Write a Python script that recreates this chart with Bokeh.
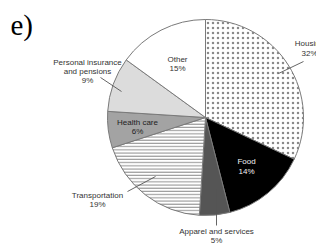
from math import pi
from bokeh.plotting import figure
from bokeh.models import Range1d, ColumnDataSource
from bokeh.core.properties import value
from bokeh.embed import file_html
from bokeh.resources import INLINE

# ---- data ----
categories = ["Housing", "Food", "Apparel and services", "Transportation",
              "Health care", "Personal insurance and pensions", "Other"]
shares = [32, 14, 5, 19, 6, 9, 15]
fill_colors = ["white", "black", "#555555", "white", "#a3a3a3", "#dcdcdc", "white"]
hatches = ["dot", " ", " ", "horizontal_line", " ", " ", " "]
hatch_scales = [5, 3, 3, 3.2, 3, 3, 3]
label_lines = [["Housing", "32%"], ["Food", "14%"], ["Apparel and services", "5%"],
               ["Transportation", "19%"], ["Health care", "6%"],
               ["Personal insurance", "and pensions", "9%"], ["Other", "15%"]]

# ---- layout (page pixel coords) ----
W, H = 316, 246
def Y(yp):
    return H - yp

cx, cy, R = 205, 117, 98
label_pos = [(309, 43, 9.5), (246, 161, 9.5), (216, 231, 9), (97, 195, 8.5),
             (137, 122, 9), (87, 62, 9), (177, 59, 9)]
label_colors = ["#333333", "#f2f2f2", "#333333", "#333333", "#222222", "#333333", "#333333"]
leaders = [(278, 73, 303, 61), None, (216, 188, 216, 225), (127, 191, 155, 176),
           None, (100, 77, 121, 91), None]

p = figure(width=W, height=H, output_backend="svg", toolbar_location=None,
           x_range=Range1d(0, W), y_range=Range1d(0, H),
           min_border=0, background_fill_color="white", border_fill_color="white")
p.axis.visible = False
p.grid.visible = False
p.outline_line_color = None

total = sum(shares)
starts, ends = [], []
cum = 0
for s in shares:
    a0 = pi / 2 - 2 * pi * cum / total
    cum += s
    a1 = pi / 2 - 2 * pi * cum / total
    starts.append(a1)
    ends.append(a0)

src = ColumnDataSource(dict(x=[cx] * len(shares), y=[Y(cy)] * len(shares),
                            start=starts, end=ends, fill=fill_colors, hatch=hatches,
                            hscale=hatch_scales, cat=categories))
p.wedge(x="x", y="y", radius=R, start_angle="start", end_angle="end",
        direction="anticlock", fill_color="fill", line_color="#7a7a7a", line_width=1,
        hatch_pattern="hatch", hatch_color="#8a8a8a", hatch_scale="hscale",
        hatch_weight=1.0, source=src)

# leader lines
lx0, ly0, lx1, ly1 = [], [], [], []
for ld in leaders:
    if ld:
        lx0.append(ld[0]); ly0.append(Y(ld[1])); lx1.append(ld[2]); ly1.append(Y(ld[3]))
p.segment(lx0, ly0, lx1, ly1, line_color="#555555", line_width=0.9)

# labels
tx, ty, tt, tc = [], [], [], []
for lines, (x, y, step), col in zip(label_lines, label_pos, label_colors):
    for i, t in enumerate(lines):
        tx.append(x); ty.append(Y(y + i * step)); tt.append(t); tc.append(col)
p.text(x=tx, y=ty, text=tt, text_color=tc, text_align="center", text_baseline="middle",
       text_font=value("Liberation Sans"), text_font_size="8px")

p.text(x=[10], y=[Y(24)], text=["e)"], text_align="left", text_baseline="middle",
       text_font=value("Liberation Serif"), text_font_size="29px", text_color="black")

open("out.html", "w").write(file_html(p, INLINE))
